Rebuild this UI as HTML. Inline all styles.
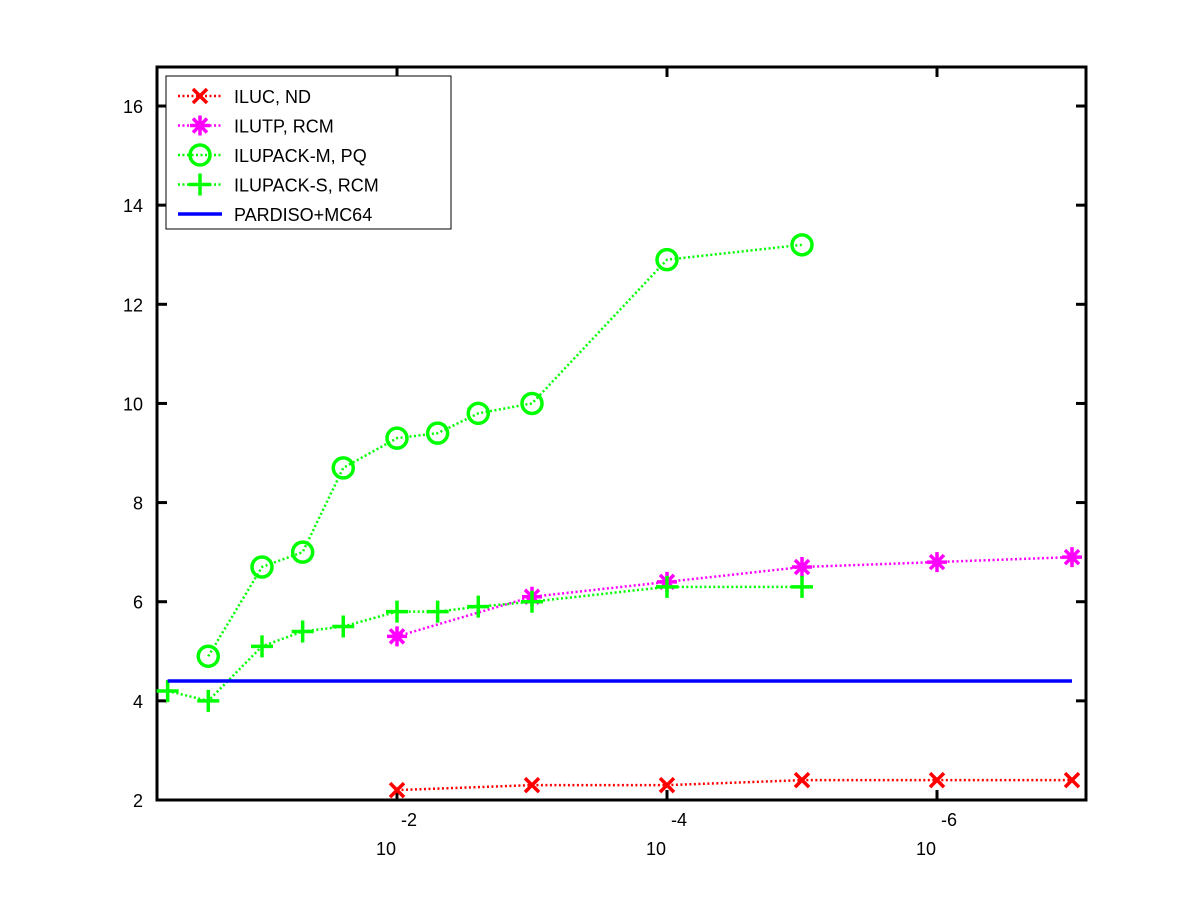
<!DOCTYPE html>
<html><head><meta charset="utf-8"><style>
body{margin:0;background:#fff;}
svg{display:block;font-family:"Liberation Sans",sans-serif;}
</style></head><body>
<svg id="chart" width="1200" height="900" xmlns="http://www.w3.org/2000/svg"></svg>
<script>
const yTicks=[2,4,6,8,10,12,14,16];
const xTickExps=[-2,-4,-6];
const tolExps=[-0.301,-0.602,-1,-1.301,-1.602,-2,-2.301,-2.602,-3,-4,-5,-6,-7];
const ilucX=[-2,-3,-4,-5,-6,-7];
const ilucY=[2.2,2.3,2.3,2.4,2.4,2.4];
const ilutpX=[-2,-3,-4,-5,-6,-7];
const ilutpY=[5.3,6.1,6.4,6.7,6.8,6.9];
const ilupackMX=[-0.602,-1,-1.301,-1.602,-2,-2.301,-2.602,-3,-4,-5];
const ilupackMY=[4.9,6.7,7.0,8.7,9.3,9.4,9.8,10.0,12.9,13.2];
const ilupackSX=[-0.301,-0.602,-1,-1.301,-1.602,-2,-2.301,-2.602,-3,-4,-5];
const ilupackSY=[4.2,4.0,5.1,5.4,5.5,5.8,5.8,5.9,6.0,6.3,6.3];
const pardisoX=[-0.301,-7];
const pardisoY=[4.4,4.4];

const L=157,R=1086,T=67,B=800;
const xs=e=>397+(-2-e)*135;
const ys=v=>B-(v-2)*49.57;
const svg=document.getElementById('chart');
const NS='http://www.w3.org/2000/svg';
function mk(tag,attrs,name,parent){const el=document.createElementNS(NS,tag);for(const k in attrs)el.setAttribute(k,attrs[k]);


(parent||svg).appendChild(el);return el;}
mk('rect',{x:L,y:T,width:R-L,height:B-T,fill:'#fff',stroke:'#000','stroke-width':3},'plot-area');
yTicks.forEach(v=>{const y=ys(v);
mk('line',{x1:L,x2:L+10,y1:y,y2:y,stroke:'#000','stroke-width':3},'y-tick');
mk('line',{x1:R,x2:R-10,y1:y,y2:y,stroke:'#000','stroke-width':3},'y-tick-right');
const t=mk('text',{x:L-14,y:y+7,'text-anchor':'end','font-size':18},'y-tick-label');t.textContent=v;});
xTickExps.forEach(e=>{const x=xs(e);
mk('line',{x1:x,x2:x,y1:B,y2:B-10,stroke:'#000','stroke-width':3},'x-tick');
mk('line',{x1:x,x2:x,y1:T,y2:T+10,stroke:'#000','stroke-width':3},'x-tick-top');
const t=mk('text',{x:x-11,y:855,'text-anchor':'middle','font-size':18},'x-tick-label');t.textContent='10';
const s=mk('text',{x:x+12,y:826,'text-anchor':'middle','font-size':18},'x-tick-exponent');s.textContent=e;});
function series(X,Y,color,marker,name,dotted){
const g=mk('g',{},name);
const pts=X.map((e,i)=>xs(e)+','+ys(Y[i])).join(' ');
mk('polyline',{points:pts,fill:'none',stroke:color,'stroke-width':dotted?2.5:3.5,'stroke-dasharray':dotted?'2,2.5':'none'},name+'-line',g);
X.forEach((e,i)=>drawMarker(g,xs(e),ys(Y[i]),color,marker,name+'-point'));}
function drawMarker(g,x,y,c,m,n){
const sw=3.5;
if(m==='x'){mk('path',{d:`M${x-7},${y-7}L${x+7},${y+7}M${x-7},${y+7}L${x+7},${y-7}`,stroke:c,'stroke-width':sw},n,g);}
else if(m==='*'){mk('path',{d:`M${x-10},${y}L${x+10},${y}M${x},${y-10}L${x},${y+10}M${x-7},${y-7}L${x+7},${y+7}M${x-7},${y+7}L${x+7},${y-7}`,stroke:c,'stroke-width':sw},n,g);}
else if(m==='o'){mk('circle',{cx:x,cy:y,r:10,fill:'none',stroke:c,'stroke-width':sw},n,g);}
else if(m==='+'){mk('path',{d:`M${x-11},${y}L${x+11},${y}M${x},${y-11}L${x},${y+11}`,stroke:c,'stroke-width':sw},n,g);}}
series(ilucX,ilucY,'#ff0000','x','series-iluc-nd',true);
series(ilutpX,ilutpY,'#ff00ff','*','series-ilutp-rcm',true);
series(ilupackMX,ilupackMY,'#00ff00','o','series-ilupack-m-pq',true);
series(ilupackSX,ilupackSY,'#00ff00','+','series-ilupack-s-rcm',true);
series(pardisoX,pardisoY,'#0000ff',null,'series-pardiso-mc64',false);
const lg=mk('g',{},'legend');
mk('rect',{x:166,y:76,width:285,height:153,fill:'#fff',stroke:'#000','stroke-width':1},'legend-box',lg);
const names=['ILUC,  ND','ILUTP, RCM','ILUPACK-M, PQ','ILUPACK-S, RCM','PARDISO+MC64'];
const cols=['#ff0000','#ff00ff','#00ff00','#00ff00','#0000ff'];
const mks=['x','*','o','+',null];
names.forEach((nm,i)=>{const y=96+i*29.5;const e=mk('g',{},'legend-entry',lg);
mk('line',{x1:178,x2:222,y1:y,y2:y,stroke:cols[i],'stroke-width':mks[i]?2.5:3.5,'stroke-dasharray':mks[i]?'2,2.5':'none'},'legend-line',e);
if(mks[i])drawMarker(e,200,y,cols[i],mks[i],'legend-marker');
const t=mk('text',{x:234,y:y+7,'font-size':18,'xml:space':'preserve'},'legend-label',e);t.textContent=nm;});
</script>
</body></html>
